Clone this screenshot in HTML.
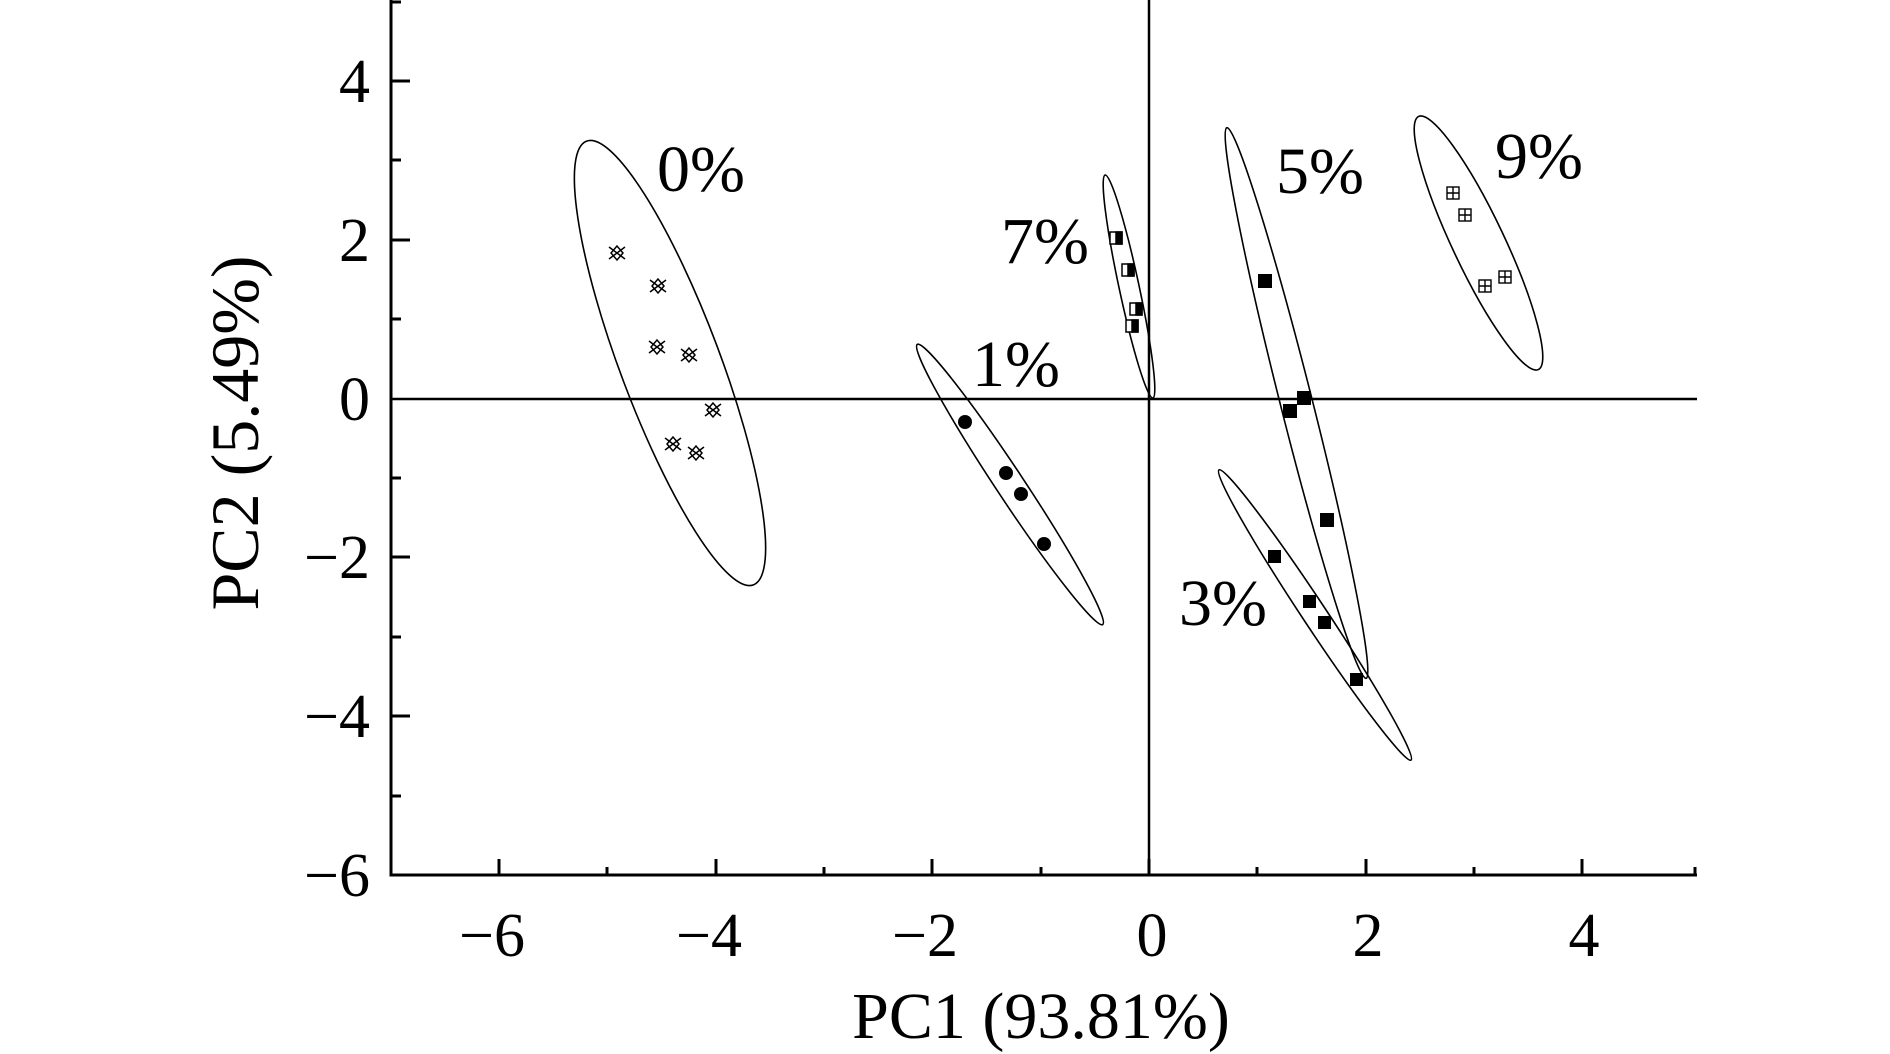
<!DOCTYPE html>
<html><head><meta charset="utf-8"><style>
html,body{margin:0;padding:0;background:#fff;}
svg{display:block;}
text{font-family:"Liberation Serif",serif;fill:#000;}
</style></head><body>
<svg width="1890" height="1054" viewBox="0 0 1890 1054" xmlns="http://www.w3.org/2000/svg">
<g stroke="#000" fill="none">
<line x1="391" y1="0" x2="391" y2="876" stroke-width="3"/>
<line x1="389.5" y1="875" x2="1697" y2="875" stroke-width="3"/>
<line x1="391" y1="399" x2="1697" y2="399" stroke-width="2.5"/>
<line x1="1149" y1="0" x2="1149" y2="875" stroke-width="2.5"/>
<g stroke-width="3">
<line x1="499" y1="875" x2="499" y2="859"/>
<line x1="716" y1="875" x2="716" y2="859"/>
<line x1="932" y1="875" x2="932" y2="859"/>
<line x1="1149" y1="875" x2="1149" y2="859"/>
<line x1="1366" y1="875" x2="1366" y2="859"/>
<line x1="1582" y1="875" x2="1582" y2="859"/>
<line x1="607" y1="875" x2="607" y2="867"/>
<line x1="824" y1="875" x2="824" y2="867"/>
<line x1="1041" y1="875" x2="1041" y2="867"/>
<line x1="1257" y1="875" x2="1257" y2="867"/>
<line x1="1474" y1="875" x2="1474" y2="867"/>
<line x1="1695" y1="875" x2="1695" y2="867"/>
<line x1="391" y1="81" x2="410" y2="81"/>
<line x1="391" y1="240" x2="410" y2="240"/>
<line x1="391" y1="557" x2="410" y2="557"/>
<line x1="391" y1="716" x2="410" y2="716"/>
<line x1="391" y1="2" x2="401" y2="2"/>
<line x1="391" y1="160" x2="401" y2="160"/>
<line x1="391" y1="319" x2="401" y2="319"/>
<line x1="391" y1="478" x2="401" y2="478"/>
<line x1="391" y1="637" x2="401" y2="637"/>
<line x1="391" y1="796" x2="401" y2="796"/>
</g>
<g stroke-width="1.6">
<ellipse cx="670" cy="363" rx="237" ry="50" transform="rotate(69.4 670 363)"/>
<ellipse cx="1010" cy="484.5" rx="168" ry="14" transform="rotate(56.5 1010 484.5)"/>
<ellipse cx="1129" cy="286.5" rx="114" ry="10" transform="rotate(77.9 1129 286.5)"/>
<ellipse cx="1296.5" cy="403" rx="284" ry="16" transform="rotate(75.8 1296.5 403)"/>
<ellipse cx="1315" cy="615" rx="174" ry="12" transform="rotate(56.5 1315 615)"/>
<ellipse cx="1478.5" cy="243" rx="140" ry="26" transform="rotate(64.7 1478.5 243)"/>
</g>
</g>
<g stroke="#000" stroke-width="1.5" fill="none">
<path transform="translate(617,253)" d="M-8,-6 L8,6 M-8,6 L8,-6 M0,-7 L-6,0 L0,7 L6,0 Z"/>
<path transform="translate(658,286)" d="M-8,-6 L8,6 M-8,6 L8,-6 M0,-7 L-6,0 L0,7 L6,0 Z"/>
<path transform="translate(657,347)" d="M-8,-6 L8,6 M-8,6 L8,-6 M0,-7 L-6,0 L0,7 L6,0 Z"/>
<path transform="translate(689,355)" d="M-8,-6 L8,6 M-8,6 L8,-6 M0,-7 L-6,0 L0,7 L6,0 Z"/>
<path transform="translate(713,410)" d="M-8,-6 L8,6 M-8,6 L8,-6 M0,-7 L-6,0 L0,7 L6,0 Z"/>
<path transform="translate(673,444)" d="M-8,-6 L8,6 M-8,6 L8,-6 M0,-7 L-6,0 L0,7 L6,0 Z"/>
<path transform="translate(696,453)" d="M-8,-6 L8,6 M-8,6 L8,-6 M0,-7 L-6,0 L0,7 L6,0 Z"/>
</g>
<g fill="#000">
<circle cx="965" cy="422" r="7"/><circle cx="1006" cy="473" r="7"/><circle cx="1021" cy="494" r="7"/><circle cx="1044" cy="544" r="7"/>
</g>
<g stroke="#000" stroke-width="1.5">
<g transform="translate(1116,238)"><rect x="-6" y="-6" width="12" height="12" fill="#fff"/><rect x="0" y="-6" width="6" height="12" fill="#000"/></g>
<g transform="translate(1128,270)"><rect x="-6" y="-6" width="12" height="12" fill="#fff"/><rect x="0" y="-6" width="6" height="12" fill="#000"/></g>
<g transform="translate(1136,309)"><rect x="-6" y="-6" width="12" height="12" fill="#fff"/><rect x="0" y="-6" width="6" height="12" fill="#000"/></g>
<g transform="translate(1132,326)"><rect x="-6" y="-6" width="12" height="12" fill="#fff"/><rect x="0" y="-6" width="6" height="12" fill="#000"/></g>
</g>
<g fill="#000">
<rect x="1258" y="274" width="14" height="14"/><rect x="1297" y="391" width="14" height="14"/><rect x="1283" y="404" width="14" height="14"/><rect x="1320" y="513" width="14" height="14"/>
</g>
<g fill="#000">
<rect x="1268" y="550" width="13" height="13"/><rect x="1303" y="595" width="13" height="13"/><rect x="1318" y="616" width="13" height="13"/><rect x="1350" y="673" width="13" height="13"/>
</g>
<g stroke="#000" stroke-width="1.4" fill="#fff">
<g transform="translate(1453,193)"><rect x="-6" y="-6" width="12" height="12"/><path d="M0,-6V6M-6,0H6"/></g>
<g transform="translate(1465,215)"><rect x="-6" y="-6" width="12" height="12"/><path d="M0,-6V6M-6,0H6"/></g>
<g transform="translate(1485,286)"><rect x="-6" y="-6" width="12" height="12"/><path d="M0,-6V6M-6,0H6"/></g>
<g transform="translate(1505,277)"><rect x="-6" y="-6" width="12" height="12"/><path d="M0,-6V6M-6,0H6"/></g>
</g>
<g font-size="66">
<text x="657" y="191">0%</text>
<text x="1001" y="263">7%</text>
<text x="972" y="386">1%</text>
<text x="1276" y="193">5%</text>
<text x="1495" y="178">9%</text>
<text x="1179" y="625">3%</text>
</g>
<g font-size="62" text-anchor="middle">
<text x="492" y="956">−6</text>
<text x="709" y="956">−4</text>
<text x="925" y="956">−2</text>
<text x="1152" y="956">0</text>
<text x="1368" y="956">2</text>
<text x="1584" y="956">4</text>
</g>
<g font-size="62" text-anchor="end">
<text x="370" y="102">4</text>
<text x="370" y="261">2</text>
<text x="370" y="420">0</text>
<text x="370" y="578">−2</text>
<text x="370" y="737">−4</text>
<text x="370" y="896">−6</text>
</g>
<text x="1041" y="1038" font-size="66" text-anchor="middle">PC1 (93.81%)</text>
<text transform="translate(258,433) rotate(-90)" font-size="68" text-anchor="middle">PC2 (5.49%)</text>
</svg>
</body></html>
